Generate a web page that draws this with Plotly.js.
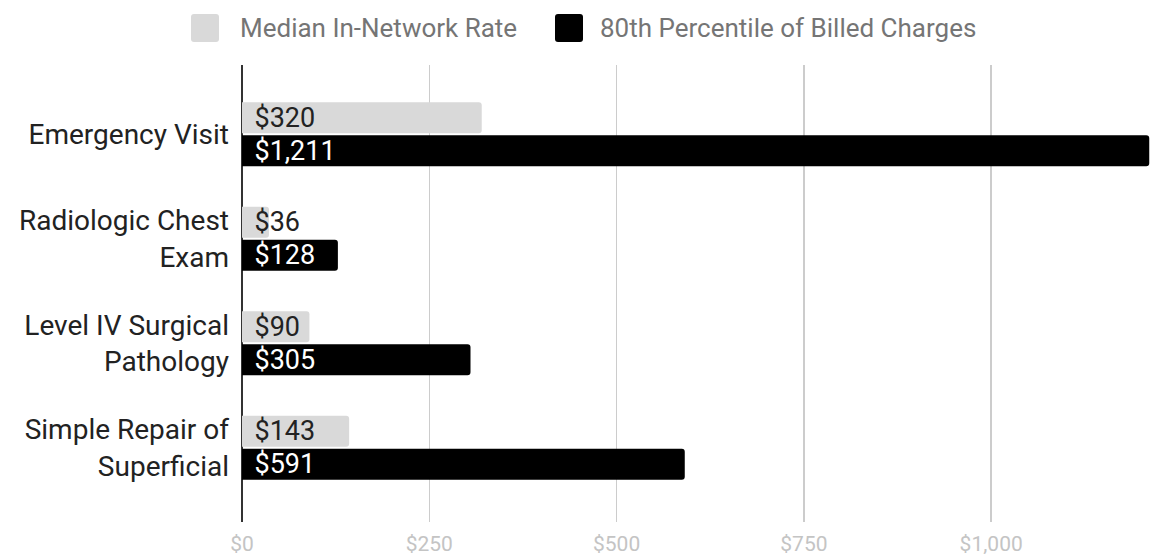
<!DOCTYPE html>
<html>
<head>
<meta charset="utf-8">
<script src="https://cdn.plot.ly/plotly-3.0.1.min.js"></script>
<style>html,body{margin:0;padding:0;background:#fff;}#chart{width:1167px;height:558px;}</style>
</head>
<body>
<div id="chart"></div>
<script>
const categories = ["Emergency Visit", "Radiologic Chest<br>Exam", "Level IV Surgical<br>Pathology", "Simple Repair of<br>Superficial"];
const seriesNames = ["Median In-Network Rate", "80th Percentile of Billed Charges"];
const medianRate = [320, 36, 90, 143];
const billed80 = [1211, 128, 305, 591];
const tickVals = [0, 250, 500, 750, 1000];
const tickText = ["$0", "$250", "$500", "$750", "$1,000"];
const colors = ["#d9d9d9", "#000000"];
const textColors = ["#222222", "#ffffff"];

const FONT = "Roboto, 'Noto Sans', sans-serif";
const M = {l: 242, r: 17, t: 65, b: 36};

function barTrace(vals, i) {
  return {
    type: "bar", orientation: "h",
    y: categories, x: vals, name: seriesNames[i],
    marker: {color: colors[i], cornerradius: 3},
    text: vals.map(v => "\u00a0\u200a$" + v.toLocaleString("en-US")),
    textposition: "inside", insidetextanchor: "start", constraintext: "none",
    textangle: 0,
    textfont: {family: FONT, size: 27, color: textColors[i]},
    hoverinfo: "skip", showlegend: false, cliponaxis: false
  };
}

const data = [barTrace(medianRate, 0), barTrace(billed80, 1)];

// Manual legend (page pixel positions -> pixel offsets from plot corner)
const legendItems = [
  {name: seriesNames[0], color: colors[0], boxL: 191, textL: 240},
  {name: seriesNames[1], color: colors[1], boxL: 555, textL: 600}
];
const LEG_TOP = 14, LEG_SIZE = 28, LEG_R = 3;
function roundedSquare(x0, y0, s, r) {
  const x1 = x0 + s, y1 = y0 + s;
  return `M${x0 + r},${y0} H${x1 - r} Q${x1},${y0} ${x1},${y0 + r} V${y1 - r} Q${x1},${y1} ${x1 - r},${y1} H${x0 + r} Q${x0},${y1} ${x0},${y1 - r} V${y0 + r} Q${x0},${y0} ${x0 + r},${y0} Z`;
}
const shapes = legendItems.map(it => {
  const x0 = it.boxL - M.l;
  const y0 = M.t - (LEG_TOP + LEG_SIZE); // pixel units, up is positive
  return {
    type: "path", xref: "paper", yref: "paper", xsizemode: "pixel", ysizemode: "pixel",
    xanchor: 0, yanchor: 1, path: roundedSquare(x0, y0, LEG_SIZE, LEG_R),
    fillcolor: it.color, line: {width: 0}, layer: "above"
  };
});
const annotations = legendItems.map(it => ({
  xref: "paper", yref: "paper", x: 0, y: 1, xanchor: "left", yanchor: "middle",
  xshift: it.textL - M.l - 2, yshift: M.t - (LEG_TOP + LEG_SIZE / 2),
  text: it.name, showarrow: false,
  font: {family: FONT, size: 26, color: "#757575"}
}));

const layout = {
  width: 1167, height: 558,
  margin: M,
  paper_bgcolor: "#ffffff", plot_bgcolor: "#ffffff",
  font: {family: FONT, color: "#222"},
  barmode: "group", bargap: 0.37, bargroupgap: 0.06,
  showlegend: false,
  shapes: shapes, annotations: annotations,
  xaxis: {
    range: [0, 1212], tickvals: tickVals, ticktext: tickText,
    showgrid: true, gridcolor: "#cccccc", gridwidth: 1.5,
    zeroline: true, zerolinecolor: "#333333", zerolinewidth: 2,
    showline: false, ticks: "", ticklabelstandoff: 7,
    tickfont: {family: FONT, size: 21, color: "#c4c4c4"}, fixedrange: true
  },
  yaxis: {
    type: "category", categoryorder: "array", categoryarray: categories,
    range: [3.71, -0.663], showgrid: false, zeroline: false, showline: false, ticks: "",
    ticklabelstandoff: 12,
    tickfont: {family: FONT, size: 28, color: "#222222"}, fixedrange: true
  }
};

Plotly.newPlot("chart", data, layout, {displayModeBar: false, staticPlot: true});
</script>
</body>
</html>
